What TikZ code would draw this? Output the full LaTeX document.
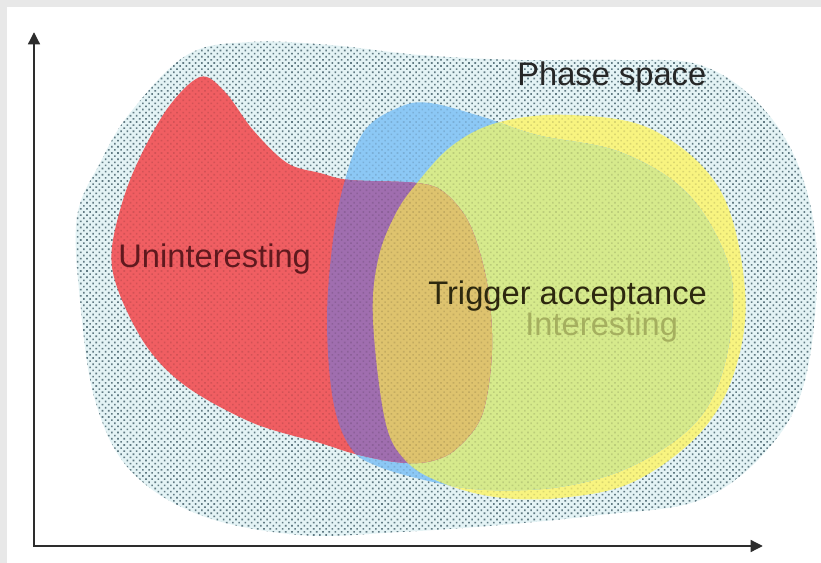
\documentclass[tikz,border=0pt]{standalone}
\usepackage{fontspec}
\setmainfont{Liberation Sans}
\usetikzlibrary{arrows.meta,patterns.meta}

\definecolor{framegray}{RGB}{232,232,232}
\definecolor{axisgray}{RGB}{45,45,45}
\definecolor{phasefill}{RGB}{228,243,245}
\definecolor{phasedot}{RGB}{110,140,150}
\definecolor{redreg}{RGB}{240,94,98}
\definecolor{bluereg}{RGB}{140,200,245}
\definecolor{yellowreg}{RGB}{248,244,128}
\definecolor{greenreg}{RGB}{214,234,140}
\definecolor{purplereg}{RGB}{160,110,175}
\definecolor{orangereg}{RGB}{222,195,110}
\definecolor{uninkcol}{RGB}{95,25,30}
\definecolor{triginkcol}{RGB}{45,40,15}
\definecolor{interinkcol}{RGB}{165,175,95}

% outlines of the regions, in pixels
\newcommand{\phasepath}{plot[smooth cycle, tension=0.6] coordinates {
  (80,300) (77,217) (100,163) (130,113) (187,55) (250,42) (330,45)
  (420,55) (520,60) (620,60) (700,65) (760,105) (800,170) (817,260)
  (805,380) (767,450) (700,500) (600,515) (500,525) (400,532)
  (300,535) (200,515) (130,470) (95,400)}}
\newcommand{\redpath}{plot[smooth cycle, tension=0.55] coordinates {
  (200,77) (225,92) (253,130) (287,163) (320,173) (350,180) (417,183)
  (445,193) (470,225) (487,283) (492,350) (482,415) (455,450) (427,462)
  (395,462) (355,454) (320,443) (253,423) (187,387) (147,347) (118,290)
  (112,247) (130,180) (165,112)}}
\newcommand{\bluepath}{plot[smooth cycle, tension=0.6] coordinates {
  (345,180) (365,130) (400,107) (430,103) (483,117) (537,135) (620,152)
  (687,193) (727,260) (732,320) (718,385) (688,430) (628,468) (560,487)
  (487,490) (433,482) (377,466) (350,447) (333,400) (327,320) (333,240)}}
\newcommand{\yellowpath}{plot[smooth cycle, tension=0.6] coordinates {
  (373,320) (378,260) (395,215) (417,183) (453,145) (500,122) (570,115)
  (653,130) (720,190) (745,290) (735,370) (700,433) (633,482) (560,498)
  (495,497) (440,482) (405,460) (385,420)}}

\begin{document}
\begin{tikzpicture}[
    x=0.02cm, y=-0.02cm,
    lbl/.style={inner sep=0pt, anchor=base west,
                font=\fontsize{18.6}{22}\selectfont},
    axis/.style={line width=1.7pt, draw=axisgray, line join=miter,
                 {Triangle[length=7pt,width=6.5pt]}-{Triangle[length=7pt,width=6.5pt]}},
    dotted region/.style={pattern={Dots[distance=2.5pt,radius=0.65pt,angle=45]}}
  ]
  \useasboundingbox (0,0) rectangle (821,563);
  \fill[framegray] (0,0) rectangle (821,563);
  \fill[white] (7,7) rectangle (821,563);

  % phase space
  \fill[phasefill] \phasepath;
  \fill[dotted region, pattern color=phasedot] \phasepath;

  % interesting and trigger acceptance
  \fill[yellowreg] \yellowpath;
  \fill[bluereg] \bluepath;
  \begin{scope}
    \clip \yellowpath;
    \fill[greenreg] \bluepath;
  \end{scope}

  % uninteresting
  \fill[redreg] \redpath;
  \begin{scope}
    \clip \redpath;
    \fill[purplereg] \bluepath;
    \fill[orangereg] \yellowpath;
  \end{scope}

  % halftone over the coloured regions
  \begin{scope}
    \clip \phasepath;
    \fill[dotted region, pattern color=black, fill opacity=0.12] \phasepath;
  \end{scope}

  % axes
  \coordinate (ytip)   at (34,32);
  \coordinate (origin) at (34,546);
  \coordinate (xtip)   at (763,546);
  \draw[axis] (ytip) -- (origin) -- (xtip);

  \node[lbl, text=black!85] (phase) at (517,86) {Phase space};
  \node[lbl, text=uninkcol] (unint) at (118,268) {Uninteresting};
  \node[lbl, text=triginkcol] (trig) at (428,305) {Trigger acceptance};
  \node[lbl, text=interinkcol] (inter) at (525,336) {Interesting};
\end{tikzpicture}
\end{document}
